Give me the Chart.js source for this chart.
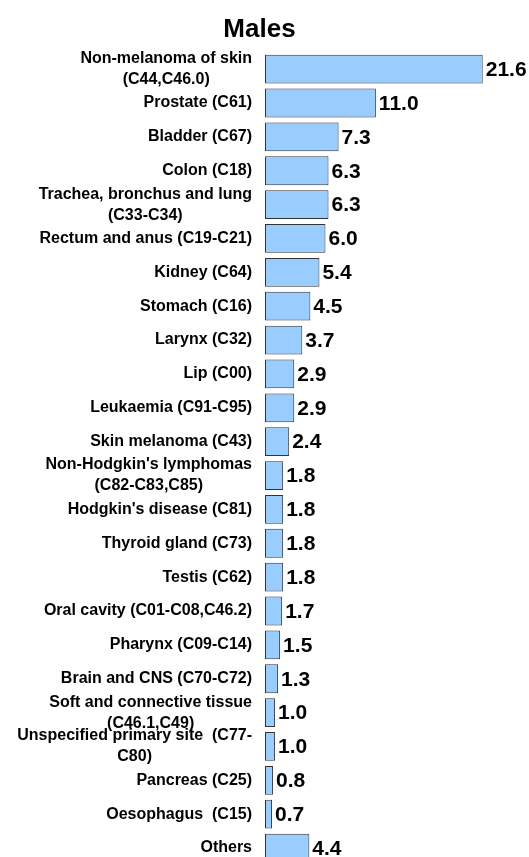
<!DOCTYPE html>
<html>
<head>
<meta charset="utf-8">
<title>Males</title>
<script src="https://cdn.jsdelivr.net/npm/chart.js@4.4.0/dist/chart.umd.min.js"></script>
<style>
  html, body { margin: 0; padding: 0; background: #fff; overflow: hidden; }
  canvas { display: block; }
</style>
</head>
<body>
<canvas id="malesChart" width="529" height="865"></canvas>
<script>
// Categories (multi-line labels as arrays)
const sites = [
    ['Non-melanoma of skin', '(C44,C46.0)'],
    'Prostate (C61)',
    'Bladder (C67)',
    'Colon (C18)',
    ['Trachea, bronchus and lung', '(C33-C34)'],
    'Rectum and anus (C19-C21)',
    'Kidney (C64)',
    'Stomach (C16)',
    'Larynx (C32)',
    'Lip (C00)',
    'Leukaemia (C91-C95)',
    'Skin melanoma (C43)',
    ["Non-Hodgkin's lymphomas", '(C82-C83,C85)'],
    "Hodgkin's disease (C81)",
    'Thyroid gland (C73)',
    'Testis (C62)',
    'Oral cavity (C01-C08,C46.2)',
    'Pharynx (C09-C14)',
    'Brain and CNS (C70-C72)',
    ['Soft and connective tissue', '(C46.1,C49)'],
    ['Unspecified primary site  (C77-', 'C80)'],
    'Pancreas (C25)',
    'Oesophagus  (C15)',
    'Others'
];

// Values (percent)
const percents = [21.6, 11.0, 7.3, 6.3, 6.3, 6.0, 5.4, 4.5, 3.7, 2.9, 2.9, 2.4,
                  1.8, 1.8, 1.8, 1.8, 1.7, 1.5, 1.3, 1.0, 1.0, 0.8, 0.7, 4.4];

const FONT = "'Liberation Sans', Arial, sans-serif";
Chart.defaults.font.family = FONT;
Chart.defaults.color = '#000';

// Category labels: each block right-aligned, lines centred inside the block
const siteLabels = {
    id: 'siteLabels',
    afterDraw(chart) {
        const ctx = chart.ctx;
        const yScale = chart.scales.y;
        ctx.save();
        ctx.font = 'bold 16px ' + FONT;
        ctx.fillStyle = '#000';
        ctx.textAlign = 'center';
        ctx.textBaseline = 'middle';
        sites.forEach((lab, i) => {
            const lines = Array.isArray(lab) ? lab : [lab];
            const w = Math.max(...lines.map(l => ctx.measureText(l).width));
            const cx = yScale.right - 13 - w / 2;
            const cy = yScale.getPixelForValue(i);
            lines.forEach((l, j) => {
                ctx.fillText(l, cx, cy + (j - (lines.length - 1) / 2) * 21);
            });
        });
        ctx.restore();
    }
};

// Value labels at the end of each bar
const valueLabels = {
    id: 'valueLabels',
    afterDatasetsDraw(chart) {
        const ctx = chart.ctx;
        const meta = chart.getDatasetMeta(0);
        ctx.save();
        ctx.font = 'bold 21px ' + FONT;
        ctx.fillStyle = '#000';
        ctx.textAlign = 'left';
        ctx.textBaseline = 'middle';
        meta.data.forEach((bar, i) => {
            ctx.fillText(percents[i].toFixed(1), bar.x + 3, bar.y + 1);
        });
        ctx.restore();
    }
};

const ctx = document.getElementById('malesChart').getContext('2d');
new Chart(ctx, {
    type: 'bar',
    data: {
        labels: sites,
        datasets: [{
            data: percents,
            backgroundColor: '#99CCFF',
            borderColor: '#333333',
            borderWidth: 1,
            borderSkipped: false,
            barPercentage: 0.85,
            categoryPercentage: 1.0
        }]
    },
    options: {
        indexAxis: 'y',
        responsive: false,
        animation: false,
        layout: { padding: { top: 0, left: 0, right: 10, bottom: 0 } },
        plugins: {
            legend: { display: false },
            tooltip: { enabled: false },
            title: {
                display: true,
                text: 'Males',
                color: '#000',
                font: { size: 26, weight: 'bold', family: FONT },
                padding: { top: 14, bottom: 7 }
            }
        },
        scales: {
            x: {
                display: false,
                min: 0,
                max: 25.2
            },
            y: {
                grid: { display: false },
                border: { display: false },
                ticks: { display: false },
                afterFit(scale) {
                    scale.width = 265;
                }
            }
        }
    },
    plugins: [siteLabels, valueLabels]
});
</script>
</body>
</html>
